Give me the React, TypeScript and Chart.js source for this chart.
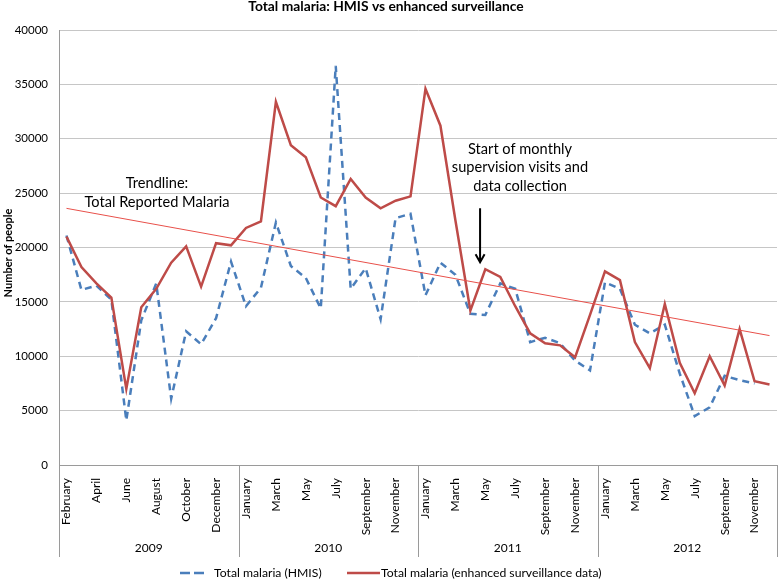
import { useEffect, useRef } from "react";
import { Chart, registerables } from "chart.js";

Chart.register(...registerables);

const FONT = "Lato, 'Open Sans', sans-serif";

const chartTitle = "Total malaria: HMIS vs enhanced surveillance";
const yAxisTitle = "Number of people";

const years = ["2009", "2010", "2011", "2012"];
const months2009 = ["February", "March", "April", "May", "June", "July", "August", "September", "October", "November", "December", ""];
const monthsFull = ["January", "February", "March", "April", "May", "June", "July", "August", "September", "October", "November", "December"];
const monthsByYear = [months2009, monthsFull, monthsFull, monthsFull];

const categoryMonths: string[] = monthsByYear.flat();
const yearStarts: number[] = monthsByYear.map((_, i) => monthsByYear.slice(0, i).reduce((s, m) => s + m.length, 0));

const hmisSeries: (number | null)[] = [
  21100, 16100, 16500, 15200, 4100, 13300, 16700, 6100, 12300, 11100, 13500, 18700,
  14600, 16300, 22300, 18300, 17200, 14400, 36700, 16200, 18100, 13400, 22700, 23100,
  15600, 18600, 17500, 13900, 13800, 16700, 16200, 11300, 11700, 11200, 9600, 8700,
  16800, 16200, 12900, 12100, 12900, 8400, 4500, 5300, 8200, 7800, 7500, null,
];

const enhancedSeries: number[] = [
  21000, 18200, 16700, 15400, 7000, 14500, 16200, 18600, 20100, 16400, 20400, 20200,
  21800, 22400, 33400, 29400, 28300, 24600, 23800, 26300, 24600, 23600, 24300, 24700,
  34600, 31200, 22500, 14200, 18000, 17300, 14600, 12100, 11200, 11000, 9900, 13800,
  17800, 17000, 11300, 8900, 14800, 9400, 6600, 10000, 7300, 12500, 7700, 7400,
];

const trendStart = 23600;
const trendEnd = 11900;

const yMin = 0;
const yMax = 40000;
const yStep = 5000;

const legendLabels = ["Total malaria (HMIS)", "Total malaria (enhanced surveillance data)"];
const trendNote = ["Trendline:", "Total Reported Malaria"];
const supervisionNote = ["Start of monthly", "supervision visits and", "data collection"];

const BLUE = "#4a7ebb";
const RED = "#be4b48";
const TREND = "#e8504a";

export default function App() {
  const ref = useRef<HTMLCanvasElement | null>(null);

  useEffect(() => {
    if (!ref.current) return;
    const n = categoryMonths.length;
    const trendData = categoryMonths.map((_, i) => (i === 0 ? trendStart : i === n - 1 ? trendEnd : null));

    const overlay = {
      id: "overlay",
      afterDraw(chart: any) {
        const { ctx, chartArea } = chart;
        const xs = chart.scales.x;
        const ys = chart.scales.y;
        ctx.save();
        ctx.fillStyle = "#000";
        ctx.textAlign = "center";
        ctx.textBaseline = "middle";

        // title
        ctx.font = `bold 13.8px ${FONT}`;
        ctx.fillText(chartTitle, 386, 7);

        // y title
        ctx.save();
        ctx.translate(8, 253);
        ctx.rotate(-Math.PI / 2);
        ctx.font = `bold 11px ${FONT}`;
        ctx.fillText(yAxisTitle, 0, 0);
        ctx.restore();

        // year separators and labels
        const bounds: number[] = [];
        yearStarts.forEach((k) => {
          bounds.push(k === 0 ? chartArea.left : (xs.getPixelForValue(k - 1) + xs.getPixelForValue(k)) / 2);
        });
        bounds.push(chartArea.right);
        ctx.strokeStyle = "#9a9a9a";
        ctx.lineWidth = 1;
        bounds.forEach((b) => {
          const px = Math.round(b) + 0.5;
          ctx.beginPath();
          ctx.moveTo(px, chartArea.bottom);
          ctx.lineTo(px, 557);
          ctx.stroke();
        });
        ctx.font = `12px ${FONT}`;
        years.forEach((yr, i) => {
          ctx.fillText(yr, (bounds[i] + bounds[i + 1]) / 2, 548);
        });

        // legend
        const ly = 573;
        ctx.lineWidth = 2.5;
        ctx.strokeStyle = BLUE;
        ctx.setLineDash([10, 4]);
        ctx.beginPath();
        ctx.moveTo(180, ly);
        ctx.lineTo(204, ly);
        ctx.stroke();
        ctx.setLineDash([]);
        ctx.strokeStyle = RED;
        ctx.beginPath();
        ctx.moveTo(347, ly);
        ctx.lineTo(380, ly);
        ctx.stroke();
        ctx.textAlign = "left";
        ctx.font = `12.2px ${FONT}`;
        ctx.fillText(legendLabels[0], 214, ly);
        ctx.fillText(legendLabels[1], 381, ly);

        // annotations
        ctx.textAlign = "center";
        ctx.font = `14.6px ${FONT}`;
        trendNote.forEach((t, i) => ctx.fillText(t, 157, 183 + i * 19));
        supervisionNote.forEach((t, i) => ctx.fillText(t, 520, 149 + i * 18.5));

        // arrow
        const ax = xs.getPixelForValue(27.65);
        const aTop = ys.getPixelForValue(23600);
        const aTip = ys.getPixelForValue(18650);
        ctx.strokeStyle = "#000";
        ctx.lineWidth = 2;
        ctx.beginPath();
        ctx.moveTo(ax, aTop);
        ctx.lineTo(ax, aTip);
        ctx.moveTo(ax - 4.5, aTip - 8);
        ctx.lineTo(ax, aTip);
        ctx.lineTo(ax + 4.5, aTip - 8);
        ctx.stroke();
        ctx.restore();
      },
    };

    const chart = new Chart(ref.current, {
      type: "line",
      data: {
        labels: categoryMonths,
        datasets: [
          {
            label: "Trendline",
            data: trendData,
            borderColor: TREND,
            borderWidth: 1,
            pointRadius: 0,
            spanGaps: true,
            order: 0,
          },
          {
            label: legendLabels[0],
            data: hmisSeries,
            borderColor: BLUE,
            borderWidth: 2.5,
            borderDash: [7, 5],
            pointRadius: 0,
            tension: 0,
            order: 2,
          },
          {
            label: legendLabels[1],
            data: enhancedSeries,
            borderColor: RED,
            borderWidth: 2.5,
            pointRadius: 0,
            tension: 0,
            order: 1,
          },
        ],
      },
      options: {
        responsive: false,
        animation: false,
        layout: { padding: { top: 30, right: 1, left: 0, bottom: 0 } },
        plugins: {
          legend: { display: false },
          title: { display: false },
          tooltip: { enabled: false },
        },
        scales: {
          x: {
            type: "category",
            offset: true,
            grid: { display: false },
            border: { display: true, color: "#9a9a9a", width: 1 },
            ticks: {
              autoSkip: false,
              minRotation: 90,
              maxRotation: 90,
              padding: 5,
              color: "#000",
              font: { family: FONT, size: 12 },
              callback: (_v: any, idx: number) => (idx % 2 === 0 ? categoryMonths[idx] : ""),
            },
            afterFit: (s: any) => {
              s.height = 116;
              s.paddingLeft = 0;
              s.paddingRight = 0;
            },
          },
          y: {
            min: yMin,
            max: yMax,
            ticks: {
              stepSize: yStep,
              padding: 11,
              color: "#000",
              font: { family: FONT, size: 11.5 },
              callback: (v: any) => String(v),
            },
            grid: { color: "#c6c6c6", lineWidth: 1, drawTicks: false },
            border: { display: true, color: "#9a9a9a", width: 1 },
            afterFit: (s: any) => {
              s.width = 59;
              s.paddingTop = 0;
              s.paddingBottom = 0;
            },
          },
        },
      },
      plugins: [overlay],
    });
    return () => chart.destroy();
  }, []);

  return (
    <div style={{ position: "absolute", left: 0, top: 0, width: 778, height: 581, background: "#fff" }}>
      <canvas ref={ref} width={778} height={581} style={{ display: "block" }} />
    </div>
  );
}
